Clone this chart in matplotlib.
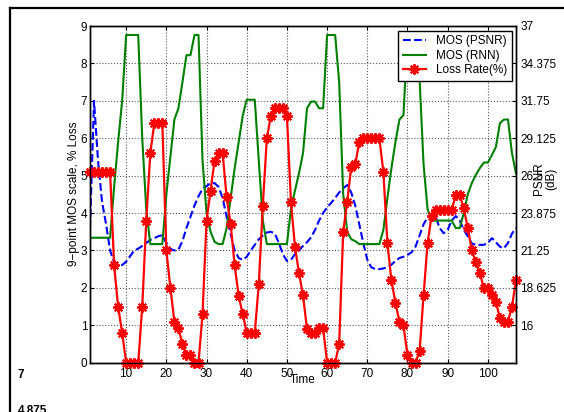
import matplotlib
matplotlib.use("Agg")
import matplotlib.pyplot as plt
from matplotlib.lines import Line2D
import numpy as np

plt.rcParams['font.family'] = ['Liberation Sans', 'DejaVu Sans']

# ---- data -------------------------------------------------------------
time = np.arange(1, 108)

mos_psnr = [3.6, 7.0, 5.4, 4.3, 3.7, 3.0, 2.68, 2.62, 2.61, 2.7,
            2.85, 3.0, 3.05, 3.12, 3.2, 3.28, 3.33, 3.38, 3.41, 3.2,
            3.04, 3.0, 3.02, 3.25, 3.6, 3.9, 4.2, 4.45, 4.65, 4.72,
            4.8, 4.8, 4.7, 4.4, 3.9, 3.45, 3.0, 2.8, 2.75, 2.83,
            3.0, 3.15, 3.3, 3.4, 3.48, 3.5, 3.45, 3.2, 2.9, 2.72,
            2.75, 2.9, 3.0, 3.12, 3.22, 3.35, 3.55, 3.8, 4.0, 4.15,
            4.27, 4.4, 4.55, 4.66, 4.75, 4.55, 4.2, 3.7, 3.2, 2.75,
            2.55, 2.5, 2.5, 2.52, 2.55, 2.62, 2.72, 2.8, 2.83, 2.88,
            2.95, 3.1, 3.4, 3.7, 3.88, 3.97, 3.9, 3.6, 3.46, 3.55,
            3.8, 3.92, 3.8, 3.55, 3.38, 3.19, 3.15, 3.15, 3.15, 3.2,
            3.33, 3.22, 3.1, 3.06, 3.2, 3.45, 3.6]

mos_rnn = [3.34, 3.34, 3.34, 3.34, 3.34, 3.34, 4.7, 5.9, 7.0, 8.76,
           8.76, 8.76, 8.76, 6.0, 4.1, 3.17, 3.17, 3.17, 3.17, 4.5,
           5.5, 6.5, 6.8, 7.5, 8.22, 8.22, 8.76, 8.76, 5.4, 4.0,
           3.5, 3.23, 3.17, 3.17, 3.6, 4.4, 5.2, 5.9, 6.6, 7.03,
           7.03, 7.03, 5.4, 3.8, 3.17, 3.17, 3.17, 3.17, 3.17, 3.17,
           4.1, 4.6, 5.06, 5.6, 6.8, 6.98, 6.98, 6.8, 6.8, 8.76,
           8.76, 8.76, 7.5, 4.5, 3.5, 3.3, 3.25, 3.17, 3.17, 3.17,
           3.17, 3.17, 3.17, 3.55, 4.4, 5.2, 5.9, 6.5, 6.62, 8.76,
           8.76, 8.76, 7.6, 5.3, 4.1, 3.8, 3.8, 3.8, 3.8, 3.8,
           3.8, 3.6, 3.6, 4.0, 4.5, 4.8, 5.02, 5.2, 5.35, 5.35,
           5.55, 5.77, 6.4, 6.5, 6.5, 5.6, 5.06]

loss_rate = [5.1, 5.1, 5.1, 5.1, 5.1, 5.1, 2.6, 1.5, 0.8, 0.0,
             0.0, 0.0, 0.0, 1.5, 3.8, 5.6, 6.4, 6.4, 6.4, 3.0,
             2.0, 1.1, 0.92, 0.5, 0.2, 0.2, 0.0, 0.0, 1.3, 3.8,
             4.6, 5.4, 5.6, 5.6, 4.42, 3.7, 2.6, 1.78, 1.3, 0.8,
             0.8, 0.8, 2.1, 4.2, 6.0, 6.6, 6.8, 6.8, 6.8, 6.6,
             4.3, 3.1, 2.4, 1.8, 0.9, 0.8, 0.8, 0.93, 0.93, 0.0,
             0.0, 0.0, 0.5, 3.5, 4.3, 5.24, 5.3, 5.9, 6.0, 6.0,
             6.0, 6.0, 6.0, 5.1, 3.2, 2.2, 1.6, 1.1, 1.0, 0.2,
             0.0, 0.0, 0.3, 1.8, 3.2, 3.93, 4.08, 4.08, 4.08, 4.08,
             4.08, 4.48, 4.48, 4.13, 3.6, 3.0, 2.7, 2.4, 2.0, 2.0,
             1.8, 1.63, 1.19, 1.1, 1.1, 1.5, 2.2]

x_ticks = [10, 20, 30, 40, 50, 60, 70, 80, 90, 100]
left_ticks = [0, 1, 2, 3, 4, 5, 6, 7, 8, 9]
psnr_ticks = [16, 18.625, 21.25, 23.875, 26.5, 29.125, 31.75, 34.375, 37]
psnr_labels = ['16', '18.625', '21.25', '23.875', '26.5', '29.125',
               '31.75', '34.375', '37']

# ---- figure -------------------------------------------------------------
W, H = 564, 412
fig = plt.figure(figsize=(W / 100, H / 100), dpi=100)
fs = 8.5

left, right, top, bottom = 90, 516, 26, 362.7
ax = fig.add_axes([left / W, 1 - bottom / H, (right - left) / W, (bottom - top) / H])
ax.set_xlim(1, 107)
ax.set_ylim(0, 9)

ax.grid(True, linestyle=':', color='0.35', linewidth=0.8)
ax.set_axisbelow(True)

l1, = ax.plot(time, mos_psnr, '--', color='blue', lw=1.5, label='MOS (PSNR)')
l2, = ax.plot(time, mos_rnn, '-', color=(0, 0.5, 0), lw=1.5, label='MOS (RNN)')
l3, = ax.plot(time, loss_rate, '-', color='red', lw=1.6, marker=(8, 2, 0),
              ms=7.5, mew=1.4, label='Loss Rate(%)', clip_on=False, zorder=3)

ax.set_xticks(x_ticks)
ax.set_yticks(left_ticks)
ax.tick_params(direction='in', length=3, labelsize=fs, top=True, right=False)
ax.tick_params(axis='x', pad=4)
ax.tick_params(axis='y', pad=2)
for s in ax.spines.values():
    s.set_linewidth(1.0)

ax2 = ax.twinx()
ax2.set_ylim(13.375, 37)
ax2.set_yticks(psnr_ticks)
ax2.set_yticklabels(psnr_labels)
ax2.tick_params(direction='in', length=3, labelsize=fs, pad=3)
for s in ax2.spines.values():
    s.set_linewidth(1.0)

leg = ax2.legend(handles=[l1, l2, l3], loc='upper right',
                 bbox_to_anchor=(511.7 / W, 1 - 30.7 / H),
                 bbox_transform=fig.transFigure, borderaxespad=0,
                 fontsize=fs, fancybox=False, framealpha=1, edgecolor='black',
                 handlelength=2.0, handletextpad=0.8, labelspacing=0.2,
                 borderpad=0.4)
leg.get_frame().set_linewidth(1.0)

# axis labels
fig.text(303 / W, 1 - 380 / H, 'Time', ha='center', va='center', fontsize=fs)
fig.text(74 / W, 1 - 194 / H, '9\u2212point MOS scale, % Loss', rotation=90,
         ha='center', va='center', fontsize=fs)
fig.text(545 / W, 1 - 179 / H, 'PSNR\n(dB)', rotation=90, ha='center',
         va='center', multialignment='center', fontsize=fs, linespacing=1.0)

# leftover tick labels of an outer axis
fig.text(18 / W, 1 - 369.5 / H, '7', ha='left', va='top', fontsize=fs,
         fontweight='bold')
fig.text(18 / W, 1 - 405 / H, '4.875', ha='left', va='top', fontsize=fs,
         fontweight='bold')

# outer frame
fig.add_artist(Line2D([10 / W, 1], [1 - 8 / H, 1 - 8 / H], color='black', lw=1.6,
                      transform=fig.transFigure))
fig.add_artist(Line2D([10 / W, 10 / W], [0, 1 - 8 / H], color='black', lw=1.6,
                      transform=fig.transFigure))

fig.savefig('out.png', dpi=100)
